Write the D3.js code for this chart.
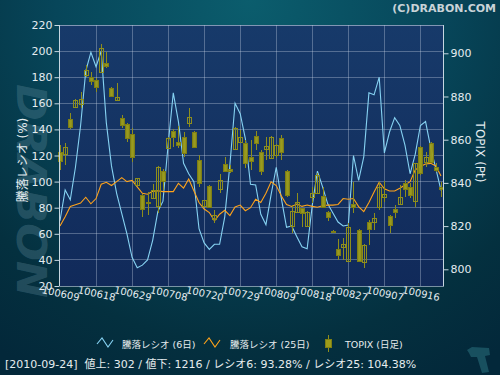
<!DOCTYPE html>
<html><head><meta charset="utf-8">
<script src="https://cdn.jsdelivr.net/npm/d3@7"></script>
<style>html,body{margin:0;padding:0;background:#042a3c;} svg{display:block}</style>
</head><body><svg id="c" width="500" height="375"></svg>
<script>
// ---------- DATA ----------
const dates = ["100609","100610","100611","100614","100615","100616","100617","100618","100621","100622","100623","100624","100625","100628","100629","100630","100701","100702","100705","100706","100707","100708","100709","100712","100713","100714","100715","100716","100720","100721","100722","100723","100726","100727","100728","100729","100730","100802","100803","100804","100805","100806","100809","100810","100811","100812","100813","100816","100817","100818","100819","100820","100823","100824","100825","100826","100827","100830","100831","100901","100902","100903","100906","100907","100908","100909","100910","100913","100914","100915","100916","100917","100921","100922","100924"];
const open  = [854.5,853.3,869.6,875.0,876.4,890.0,889.2,887.6,891.5,895.7, 883.8,878.4,869.9,867.3,862.6,839.0,834.4,831.3,833.2,829.3, 845.5,856.0,864.0,859.1,861.1,867.6,863.4,850.6,829.5,838.6, 823.3,837.0,848.8,846.3,855.6,859.1,858.6,851.9,861.7,854.5, 855.8,851.4,852.9,860.7,845.5,820.1,826.7,828.2,820.1,833.6, 835.2,833.9,826.7,817.9,809.4,810.5,804.0,830.2,818.2,803.5, 822.0,822.0,829.0,833.3,824.7,827.9,830.2,839.8,838.0,831.8, 856.8,849.8,858.3,847.5,838.3];
const high  = [857.5,858.3,872.2,879.0,882.2,894.6,891.5,888.4,904.3,900.5, 884.3,886.1,871.4,867.8,865.3,842.4,834.8,835.9,839.4,847.8, 846.3,861.2,864.8,866.4,863.7,874.5,864.0,852.9,832.3,838.9, 827.5,844.1,852.1,848.3,866.0,864.5,859.9,859.9,864.2,855.2, 861.3,861.5,857.9,862.2,846.0,829.8,835.2,828.6,827.0,838.0, 844.7,838.0,827.0,818.2,814.0,814.4,821.6,840.6,818.5,811.6, 822.8,825.9,840.6,841.0,825.0,829.8,839.0,841.4,839.8,849.4, 857.1,854.5,859.1,849.1,840.6];
const low   = [846.0,848.3,865.0,874.5,874.5,889.2,885.3,882.2,891.0,893.3, 879.8,878.1,865.3,859.1,849.8,838.6,824.4,825.1,832.4,825.9, 836.7,855.5,856.8,856.0,852.1,866.0,856.0,838.3,829.0,828.2, 821.6,835.5,845.2,844.5,855.2,858.3,846.9,846.0,855.2,843.7, 850.6,851.0,851.5,850.6,833.6,816.7,825.9,819.7,819.7,830.6, 834.9,828.2,822.5,816.9,804.3,804.3,803.7,825.9,803.5,800.5, 811.3,818.2,827.5,831.3,816.7,823.6,829.8,833.6,832.9,829.0, 843.7,847.5,849.1,845.2,833.6];
const close = [850.3,856.5,866.0,878.4,878.9,892.3,887.3,884.5,902.3,894.3, 880.2,879.6,866.8,860.7,851.9,842.1,827.9,830.6,836.7,847.5, 840.9,860.7,861.1,857.6,854.0,870.4,856.5,840.1,832.1,829.0, 825.0,841.4,845.5,845.5,865.3,861.1,849.1,850.3,858.6,845.7, 857.1,861.1,857.6,854.5,834.4,827.1,831.0,826.2,826.7,835.2, 843.7,828.7,824.4,817.1,806.6,811.6,819.5,828.7,804.0,811.3, 818.7,823.6,838.3,834.9,820.5,826.4,833.6,837.0,834.4,849.1, 844.5,851.9,849.8,846.0,837.3];
const ratio6  = [70,93.6,86,111,143,184.6,199,188,200,145, 112,91,75.5,60,42,34,36,40,55,77, 85,128,168,146,114,106,100,64,53,48, 52,52,73,113,160,152,133,98,97.4,75, 67,90,111,87,65,66,57.8,50,48.5,82, 108,96,83,76,69,66,66.7,120,101,119, 168,166.5,180,122,138,149,143,128,106,121, 143,146,126,110,93.28];
const ratio25 = [66,73,81,82.3,83.5,88,83,87,98,99.5, 97,100,103,100,101,96,91,90.3,92.5,93, 92.3,92.3,92.3,98.7,95,102,93,84,79,76.3, 70,75,78,74,80.5,82,77.7,80,86.5,84, 91,99.8,97,89,82.5,81,82.8,81,82,81, 80.3,81.5,82,82,82.5,87,86.5,87,80.8,77, 84,92,99.5,94.5,92.8,92.8,94.9,97.4,100,109, 111.5,113.5,114,112,104.38];
const leftTicks  = [20,40,60,80,100,120,140,160,180,200,220];
const rightTicks = [800,820,840,860,880,900];
const xLabelEvery = 7;
const legendLabels = ["騰落レシオ (6日)","騰落レシオ (25日)","TOPIX (日足)"];
const statusText = "[2010-09-24]  値上: 302 / 値下: 1216 / レシオ6: 93.28% / レシオ25: 104.38%";
const leftTitle = "騰落レシオ (%)";
const rightTitle = "TOPIX (Pt)";
const copyright = "(C)DRABON.COM";

// ---------- LAYOUT ----------
const W=500,H=375;
const L=59.5,R=443.5,T=25,B=286;
const svg=d3.select("#c");
const defs=svg.append("defs");
const rg=defs.append("radialGradient").attr("id","bg").attr("gradientUnits","userSpaceOnUse")
  .attr("cx",250).attr("cy",0).attr("r",430);
rg.append("stop").attr("offset","0").attr("stop-color","#0b5d6d");
rg.append("stop").attr("offset","0.45").attr("stop-color","#07465a");
rg.append("stop").attr("offset","0.8").attr("stop-color","#04303f");
rg.append("stop").attr("offset","1").attr("stop-color","#03283a");
svg.append("rect").attr("width",W).attr("height",H).attr("fill","url(#bg)");

const pg=defs.append("linearGradient").attr("id","plotbg").attr("x1",0).attr("y1",0).attr("x2",0).attr("y2",1);
pg.append("stop").attr("offset","0").attr("stop-color","#173a6a");
pg.append("stop").attr("offset","1").attr("stop-color","#112a5a");

// watermark
svg.append("text").attr("transform","translate(17,84) rotate(90)")
  .attr("font-family","DejaVu Sans").attr("font-weight","bold").attr("font-style","italic")
  .attr("font-size",40).attr("textLength",214).attr("lengthAdjust","spacingAndGlyphs")
  .attr("fill","#6d97a8").attr("fill-opacity",0.3).text("DRABON");

svg.append("rect").attr("x",L).attr("y",T).attr("width",R-L).attr("height",B-T).attr("fill","url(#plotbg)");

const x=d3.scalePoint().domain(dates).range([60,441]);
const yL=d3.scaleLinear().domain([20,220]).range([B,T]);
const yR=d3.scaleLinear().domain([792.27,913.1]).range([B,T]);

// grid
const grid=svg.append("g").attr("stroke","#c8d4e6").attr("stroke-opacity",0.35).attr("stroke-width",1).attr("shape-rendering","crispEdges");
leftTicks.filter(v=>v>20&&v<220).forEach(v=>{
  grid.append("line").attr("x1",L).attr("x2",R).attr("y1",yL(v)).attr("y2",yL(v));
});
const labelIdx=d3.range(0,dates.length,xLabelEvery);
labelIdx.filter(i=>i>0).forEach(i=>{
  grid.append("line").attr("x1",x(dates[i])).attr("x2",x(dates[i])).attr("y1",T).attr("y2",B);
});
svg.append("line").attr("x1",L).attr("x2",R).attr("y1",T).attr("y2",T)
  .attr("stroke","#c8d4e6").attr("stroke-opacity",0.6).attr("shape-rendering","crispEdges");
svg.append("line").attr("x1",L).attr("x2",R).attr("y1",B).attr("y2",B)
  .attr("stroke","#c8d4e6").attr("stroke-opacity",0.6).attr("shape-rendering","crispEdges");

// lines
const lineGen=d3.line().x((d,i)=>x(dates[i])).y(d=>yL(d));
svg.append("path").datum(ratio6).attr("d",lineGen).attr("fill","none").attr("stroke","#86d2f2").attr("stroke-width",1.1);
svg.append("path").datum(ratio25).attr("d",lineGen).attr("fill","none").attr("stroke","#ffa31a").attr("stroke-width",1.1);

// candles
const cg=svg.append("g").attr("shape-rendering","crispEdges");
dates.forEach((d,i)=>{
  const cx=Math.round(x(d));
  const up=close[i]>=open[i];
  cg.append("line").attr("x1",cx+0.5).attr("x2",cx+0.5)
    .attr("y1",yR(high[i])).attr("y2",yR(low[i])).attr("stroke","#8e8e1c");
  const yt=Math.round(yR(Math.max(open[i],close[i])))+0.5;
  const yb=Math.round(yR(Math.min(open[i],close[i])))+0.5;
  cg.append("rect").attr("x",cx-1.5).attr("y",yt).attr("width",4).attr("height",Math.max(1,yb-yt))
    .attr("fill",up?"none":"#9c9c1a").attr("fill-opacity",0.92)
    .attr("stroke",up?"#8e8e1c":"#7e7e14");
});

// axes
const axCol="#c6d6e0", txtCol="#e4ecf0";
const gl=svg.append("g").attr("transform",`translate(${L},0)`)
  .call(d3.axisLeft(yL).tickValues(leftTicks).tickSize(5).tickSizeOuter(0).tickPadding(2));
const gr=svg.append("g").attr("transform",`translate(${R},0)`)
  .call(d3.axisRight(yR).tickValues(rightTicks).tickSize(5).tickSizeOuter(0).tickPadding(2));
[gl,gr].forEach(g=>{
  g.select(".domain").attr("stroke",axCol).attr("d",`M0,${T}V${B}`);
  g.selectAll(".tick line").attr("stroke",axCol);
  g.selectAll("text").attr("fill",txtCol).attr("font-size",11).attr("font-family","DejaVu Sans");
});

// x labels
svg.append("g").selectAll("text").data(labelIdx).join("text")
  .attr("transform",i=>`translate(${x(dates[i])},${B+11}) rotate(12)`)
  .attr("text-anchor","middle").attr("font-family","DejaVu Sans").attr("font-size",10)
  .attr("fill",txtCol).text(i=>dates[i]);

// titles
svg.append("text").attr("transform","translate(27,160) rotate(-90)").attr("text-anchor","middle")
  .attr("font-family","DejaVu Sans, Noto Sans CJK JP").attr("font-size",12).attr("fill",txtCol).text(leftTitle);
svg.append("text").attr("transform","translate(476,152) rotate(90)").attr("text-anchor","middle")
  .attr("font-family","DejaVu Sans, Noto Sans CJK JP").attr("font-size",12).attr("fill",txtCol).text(rightTitle);

svg.append("text").attr("x",496).attr("y",12).attr("text-anchor","end")
  .attr("font-family","DejaVu Sans").attr("font-weight","bold").attr("font-size",11)
  .attr("fill","#c9d3d8").text(copyright);

// legend
const lg=svg.append("g").attr("font-family","DejaVu Sans, Noto Sans CJK JP").attr("font-size",9.5).attr("fill","#e6ecee");
const zig=(x0,col)=>lg.append("path").attr("d",`M${x0},344 L${x0+5},338 L${x0+11},347 L${x0+16},340`)
  .attr("fill","none").attr("stroke",col).attr("stroke-width",1.1);
zig(97,"#86d2f2");
lg.append("text").attr("x",122).attr("y",347.5).text(legendLabels[0]);
zig(204,"#ffa31a");
lg.append("text").attr("x",230).attr("y",347.5).text(legendLabels[1]);
lg.append("line").attr("x1",328.5).attr("x2",328.5).attr("y1",335).attr("y2",352).attr("stroke","#8e8e1c");
lg.append("rect").attr("x",325.5).attr("y",339.5).attr("width",6).attr("height",8).attr("fill","#9c9c1a").attr("stroke","#7e7e14");
lg.append("text").attr("x",345).attr("y",347.5).text(legendLabels[2]);

// status
svg.append("text").attr("x",5).attr("y",368).attr("font-family","DejaVu Sans, Noto Sans CJK JP")
  .attr("font-size",11).attr("fill","#e6ecee").attr("xml:space","preserve").text(statusText);

// corner icon
svg.append("path").attr("d","M467,350 L472,347 L489,348 L490,355 L485,356 L489,372 L482,373 L477,357 L471,357 L469,353 Z")
  .attr("fill","#1b5464").attr("fill-opacity",0.9);
</script></body></html>
